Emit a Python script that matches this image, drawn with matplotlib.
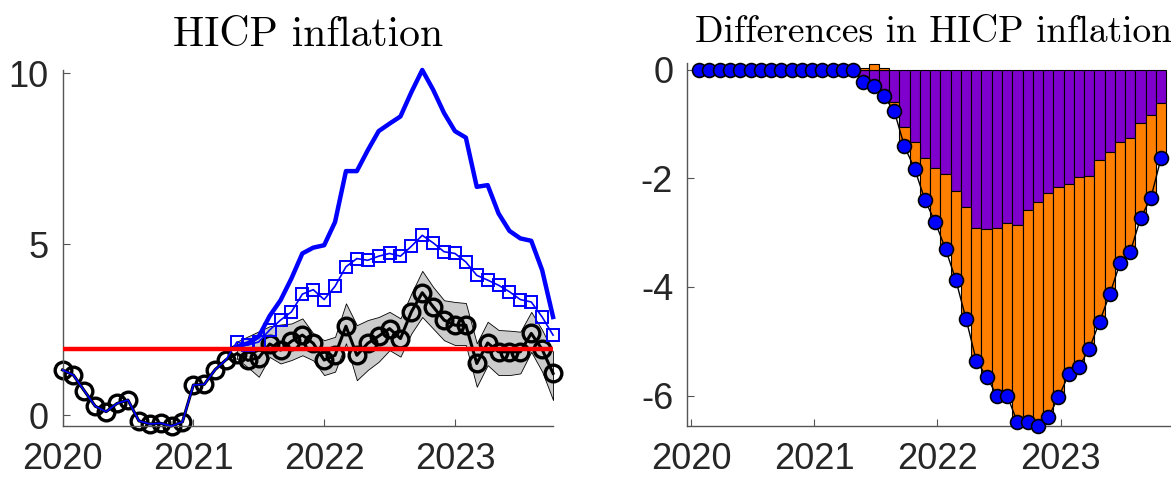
import numpy as np
import matplotlib.pyplot as plt

plt.rcParams['font.family'] = ['Liberation Sans', 'DejaVu Sans']
plt.rcParams['axes.unicode_minus'] = False

# monthly observations, Jan 2020 .. Oct 2023
months = np.arange(46)

# HICP inflation: baseline path (circles) with band, alternative paths
hicp_base = [1.32, 1.17, 0.71, 0.26, 0.10, 0.34, 0.44, -0.17, -0.26, -0.24,
             -0.32, -0.20, 0.88, 0.90, 1.33, 1.62, 1.80, 1.60, 1.68, 2.08,
             1.90, 2.16, 2.34, 2.10, 1.61, 1.75, 2.60, 1.75, 2.10, 2.31,
             2.53, 2.24, 3.02, 3.58, 3.17, 2.78, 2.63, 2.63, 1.51, 2.11,
             1.85, 1.85, 1.85, 2.39, 1.92, 1.22]
band_start = 16
band_hi = [2.15, 2.30, 2.45, 2.60, 2.65, 2.68, 2.83, 2.39, 2.19, 2.29,
           3.27, 2.63, 2.78, 2.87, 3.02, 2.83, 3.56, 4.22, 3.75, 3.36,
           3.31, 3.28, 2.10, 2.73, 2.49, 2.47, 2.44, 3.02, 2.49, 1.85]
band_lo = [1.65, 1.40, 1.12, 1.70, 1.51, 1.61, 1.75, 1.60, 1.17, 1.27,
           2.10, 1.02, 1.32, 1.56, 1.90, 1.71, 2.39, 2.87, 2.53, 2.19,
           2.05, 2.05, 0.83, 1.46, 1.17, 1.17, 1.22, 1.85, 1.27, 0.44]
hicp_alt = hicp_base[:16] + [2.14, 2.05, 2.14, 2.49, 2.78, 3.02, 3.54, 3.67,
                             3.38, 3.77, 4.34, 4.58, 4.53, 4.65, 4.73, 4.65,
                             4.94, 5.26, 5.04, 4.78, 4.73, 4.48, 4.09, 3.95,
                             3.80, 3.61, 3.38, 3.31, 2.87, 2.34]
hicp_actual = [2.00, 2.10, 2.30, 2.90, 3.36, 4.00, 4.73, 4.90, 4.97, 5.65,
               7.14, 7.14, 7.75, 8.31, 8.53, 8.74, 9.45, 10.1, 9.52, 8.84,
               8.31, 8.12, 6.68, 6.73, 5.90, 5.39, 5.17, 5.10, 4.24, 2.87]
target = 1.93

# differences: two contributions and the total
diff_total = [0.0] * 16 + [-0.22, -0.29, -0.49, -0.76, -1.41, -1.83, -2.40,
                           -2.81, -3.30, -3.87, -4.59, -5.36, -5.65, -6.00,
                           -6.00, -6.49, -6.48, -6.56, -6.40, -6.03, -5.61,
                           -5.47, -5.14, -4.64, -4.13, -3.56, -3.35, -2.73,
                           -2.36, -1.62]
contrib_a = [0.0] * 16 + [-0.25, -0.39, -0.52, -0.60, -1.06, -1.33, -1.63,
                          -1.81, -1.92, -2.24, -2.52, -2.92, -2.94, -2.92,
                          -2.83, -2.86, -2.59, -2.44, -2.27, -2.15, -2.10,
                          -1.97, -1.95, -1.67, -1.52, -1.33, -1.25, -0.98,
                          -0.83, -0.62]
contrib_b = [0.0] * 16 + [0.03, 0.10, 0.03, -0.16, -0.35, -0.50, -0.77,
                          -1.00, -1.38, -1.63, -2.07, -2.44, -2.71, -3.08,
                          -3.17, -3.63, -3.89, -4.12, -4.13, -3.88, -3.51,
                          -3.50, -3.19, -2.97, -2.61, -2.23, -2.10, -1.75,
                          -1.53, -1.00]

years = [2020, 2021, 2022, 2023]

t_left = 2020 + months / 12
t_right = 2020 + (months + 0.8) / 12

fig = plt.figure(figsize=(11.71, 4.78), dpi=100)
ax1 = fig.add_axes([0.0534, 0.1088, 0.4189, 0.7448])
ax2 = fig.add_axes([0.5867, 0.1088, 0.421, 0.7588])

# left panel
tb = t_left[band_start:]
ax1.fill_between(tb, band_lo, band_hi, facecolor='#cccccc', edgecolor='k',
                 linewidth=0.6, zorder=1)
ax1.plot(t_left, hicp_base, '-o', color='k', lw=2.2, ms=12, mew=2.4,
         mfc='none', clip_on=False, zorder=2)
ax1.plot(t_left, hicp_alt, '-', color='b', lw=1.2, clip_on=False, zorder=3)
ax1.plot(tb, hicp_alt[band_start:], 's', mfc='none', mec='b', ms=9, mew=1.4,
         clip_on=False, zorder=3)
ax1.plot(tb, hicp_actual, '-', color='b', lw=3.2, clip_on=False, zorder=4)
ax1.plot(t_left, np.full(len(months), target), '-', color='r', lw=3.2,
         zorder=5)
ax1.set_xlim(t_left[0], t_left[-1])
ax1.set_ylim(-0.32, 10.1)
ax1.set_yticks([0, 5, 10])
ax1.set_title('HICP inflation', fontfamily='cmr10', fontsize=30, pad=17)

# right panel: stacked contributions
a = np.array(contrib_a)
b = np.array(contrib_b)
w = 1 / 12
ax2.bar(t_right, a, width=w, color='#7f00cc', edgecolor='k', linewidth=0.8,
        zorder=1)
ax2.bar(t_right, b, width=w, bottom=np.where(b < 0, a, 0), color='#ff8000',
        edgecolor='k', linewidth=0.8, zorder=1)
ax2.plot(t_right, diff_total, '-', color='k', lw=1.0, clip_on=False, zorder=2)
ax2.plot(t_right, diff_total, 'o', mfc='b', mec='k', ms=10, mew=1.2,
         clip_on=False, zorder=3)
ax2.set_xlim(2019.968, 2023.97)
ax2.set_ylim(-6.56, 0.12)
ax2.set_yticks([0, -2, -4, -6])
ax2.set_title('Differences in HICP inflation', fontfamily='cmr10',
              fontsize=27, pad=15)

for ax in (ax1, ax2):
    ax.set_xticks(years)
    ax.set_xticklabels([str(y) for y in years])
    for s in ('top', 'right'):
        ax.spines[s].set_visible(False)
    for s in ('left', 'bottom'):
        ax.spines[s].set_color('#555555')
        ax.spines[s].set_linewidth(1.0)
    ax.tick_params(direction='in', length=5, width=0.8, colors='#555555',
                   labelcolor='#262626', labelsize=26)
    ax.tick_params(axis='x', pad=11.5)
    ax.tick_params(axis='y', pad=10)

fig.savefig('out.png', dpi=100)
